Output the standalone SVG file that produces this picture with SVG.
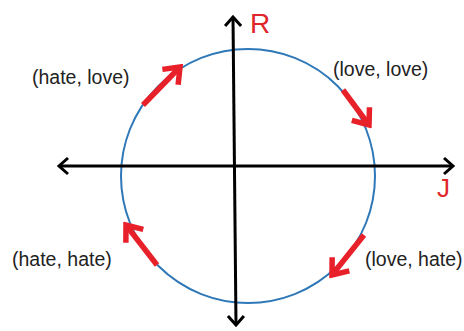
<svg xmlns="http://www.w3.org/2000/svg" width="464" height="331" viewBox="0 0 464 331">
<style>
.lbl{font-family:"Liberation Sans",Arial,sans-serif;font-size:19.5px;fill:#222}
.ax{font-family:"Liberation Sans",Arial,sans-serif;fill:#e0262b}
.axis{stroke:#000;stroke-width:3;fill:none}
.flow{stroke:#e8202a;stroke-width:5.5;fill:none;stroke-linecap:butt}
</style>
<defs>
<marker id="bh" markerUnits="userSpaceOnUse" viewBox="-12 -10 14 20" refX="0" refY="0" markerWidth="14" markerHeight="20" orient="auto-start-reverse">
<path d="M-9,-8 L0,0 L-9,8" fill="none" stroke="#000" stroke-width="3"/>
</marker>
<marker id="rh" markerUnits="userSpaceOnUse" viewBox="-18 -16 22 32" refX="0" refY="0" markerWidth="22" markerHeight="32" orient="auto">
<path d="M-14,-11 L0,0 L-14,11" fill="none" stroke="#e8202a" stroke-width="5.5" stroke-linejoin="miter"/>
</marker>
</defs>
<g id="orbit">
<circle cx="248" cy="176" r="127" fill="none" stroke="#2e78b7" stroke-width="2"/>
</g>
<g id="connectors">
<line class="axis" x1="59" y1="166" x2="453" y2="166" marker-start="url(#bh)" marker-end="url(#bh)"/>
<line class="axis" x1="236" y1="325" x2="233" y2="17" marker-start="url(#bh)" marker-end="url(#bh)"/>
<line class="flow" x1="143" y1="105" x2="180" y2="67" marker-end="url(#rh)"/>
<line class="flow" x1="343" y1="90" x2="369" y2="125" marker-end="url(#rh)"/>
<line class="flow" x1="157" y1="265" x2="126" y2="225" marker-end="url(#rh)"/>
<line class="flow" x1="364" y1="235" x2="332" y2="275" marker-end="url(#rh)"/>
</g>
<g id="axis-R"><text class="ax" x="250" y="33" font-size="28">R</text></g>
<g id="axis-J"><text class="ax" x="437" y="197" font-size="26">J</text></g>
<g id="hate-love"><text class="lbl" x="32" y="84">(hate, love)</text></g>
<g id="love-love"><text class="lbl" x="333" y="76">(love, love)</text></g>
<g id="hate-hate"><text class="lbl" x="12" y="266">(hate, hate)</text></g>
<g id="love-hate"><text class="lbl" x="365" y="266">(love, hate)</text></g>
</svg>
